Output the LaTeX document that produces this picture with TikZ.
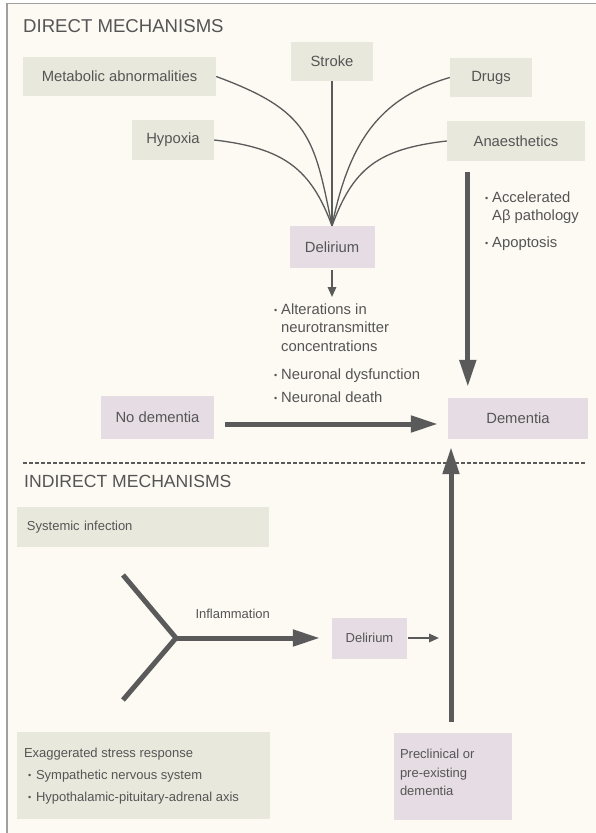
\documentclass[tikz,border=0pt]{standalone}
\usepackage{fontspec}
\setmainfont{Liberation Sans}
\usetikzlibrary{arrows.meta}
\definecolor{bgc}{HTML}{FDF9F3}
\definecolor{grn}{HTML}{E9E8DC}
\definecolor{pur}{HTML}{E6DDE4}
\definecolor{txtc}{HTML}{555555}
\definecolor{lnc}{HTML}{5A5A5A}
\definecolor{frc}{HTML}{A0A0A0}
\newcommand\ftop{\fontsize{14.8}{18.5}\selectfont}
\newcommand\fbot{\fontsize{13}{22}\selectfont}
\newcommand\fpre{\fontsize{13}{18.5}\selectfont}
\newcommand\ftitle{\fontsize{18.6}{22}\selectfont}
\newcommand\ftitleb{\fontsize{17.6}{22}\selectfont}
\newcommand\bul{{\fontsize{9}{9}\selectfont\raisebox{1pt}{•}}}
\begin{document}
\begin{tikzpicture}[x=1pt,y=-1pt,
  gbox/.style={fill=grn, inner sep=0pt, text=txtc, font=\ftop},
  pbox/.style={fill=pur, inner sep=0pt, text=txtc, font=\ftop},
  plain/.style={text=txtc, inner sep=0pt},
  curve/.style={draw=lnc, line width=1.3pt},
  bigarrow/.style={draw=lnc, line width=5pt, -{Triangle[length=27pt,width=16pt]}},
  smallarrow/.style={draw=lnc, line width=2.5pt, -{Triangle[length=10pt,width=8pt]}},
  arm/.style={draw=lnc, line width=5pt, line join=round},
  sepline/.style={draw=lnc, line width=1.2pt, dash pattern=on 3.5pt off 2.5pt}]
\useasboundingbox (0,0) rectangle (596,833);
\fill[white] (0,0) rectangle (596,833);
\draw[draw=frc, fill=bgc, line width=1.3pt] (7,3.5) rectangle (610,850);

% ---- direct mechanisms ----
\node[plain, font=\ftitle, anchor=base west] (t1) at (23,32) {DIRECT MECHANISMS};
\node[gbox, minimum width=193pt, minimum height=39pt] (meta) at (119.5,76.5) {Metabolic abnormalities};
\node[gbox, minimum width=82pt, minimum height=39pt] (stroke) at (332,61.5) {Stroke};
\node[gbox, minimum width=82pt, minimum height=39pt] (drugs) at (491,77.5) {Drugs};
\node[gbox, minimum width=82pt, minimum height=40pt] (hyp) at (173,140) {Hypoxia};
\node[gbox, minimum width=138pt, minimum height=40pt] (anae) at (516,141) {Anaesthetics};
\node[pbox, minimum width=85pt, minimum height=42pt] (del1) at (332,247) {Delirium};

\draw[curve] (meta.east) .. controls (310,111) and (314,137) .. (del1.north);
\draw[curve] (hyp.east) .. controls (284,148) and (311,169) .. (del1.north);
\draw[curve] (stroke.south) -- (del1.north);
\draw[curve] (drugs.west) .. controls (383,97) and (350,137) .. (del1.north);
\draw[curve] (anae.west) .. controls (377,149) and (353,169) .. (del1.north);

\draw[smallarrow] ([yshift=-2pt]del1.south) -- ++(0,27);

\node[plain, font=\ftop, anchor=base west] (alt) at (274,314)
  {\begin{tabular}[t]{@{}l@{}l@{}}\makebox[7pt][l]{\bul}&Alterations in\\&neurotransmitter\\&concentrations\end{tabular}};
\node[plain, font=\ftop, anchor=base west] (dys) at (274,379) {\makebox[7pt][l]{\bul}Neuronal dysfunction};
\node[plain, font=\ftop, anchor=base west] (death) at (274,402) {\makebox[7pt][l]{\bul}Neuronal death};
\node[plain, font=\ftop, anchor=base west] (accel) at (485,202)
  {\begin{tabular}[t]{@{}l@{}l@{}}\makebox[7pt][l]{\bul}&Accelerated\\&Aβ pathology\end{tabular}};
\node[plain, font=\ftop, anchor=base west] (apop) at (485,247) {\makebox[7pt][l]{\bul}Apoptosis};

\node[pbox, minimum width=113pt, minimum height=43pt] (nodem) at (157.5,417.5) {No dementia};
\node[pbox, minimum width=140pt, minimum height=41pt] (dem) at (518,418.5) {Dementia};

\draw[bigarrow] ([shift={(21,11)}]anae.south west) -- ([shift={(20,-11)}]dem.north west);
\draw[bigarrow] ([shift={(11,6.5)}]nodem.east) -- ([shift={(-10,5.5)}]dem.west);

\draw[sepline] (23,463) -- (585,463);

% ---- indirect mechanisms ----
\node[plain, font=\ftitleb, anchor=base west] (t2) at (24,487) {INDIRECT MECHANISMS};
\node[gbox, font=\fbot, minimum width=252pt, minimum height=40pt, text width=232pt, align=left] (sys) at (143,527) {Systemic infection};

\coordinate (yc) at (176,638);
\coordinate (ya) at (123,575);
\coordinate (yb) at (123,700);
\draw[arm] (ya) -- (yc) -- (yb);

\node[pbox, font=\fbot, minimum width=75pt, minimum height=41pt] (del2) at (369.5,638) {Delirium};
\draw[bigarrow] (yc) -- node[plain, font=\fbot, anchor=base west, at start, shift={(17,-20)}] (infl) {Inflammation} ([xshift=-12pt]del2.west);
\draw[smallarrow] ([xshift=1pt]del2.east) -- ++(31,0);

\node[gbox, minimum width=253pt, minimum height=87pt] (stress) at (143.5,775.5) {};
\node[plain, font=\fbot, anchor=base west] (stresstext) at ([shift={(7,26)}]stress.north west)
  {\begin{tabular}[t]{@{}l@{}}Exaggerated stress response\\\hspace{4pt}\makebox[8pt][l]{\bul}Sympathetic nervous system\\\hspace{4pt}\makebox[8pt][l]{\bul}Hypothalamic-pituitary-adrenal axis\end{tabular}};

\node[pbox, minimum width=118pt, minimum height=87pt] (pre) at (453,776.5) {};
\node[plain, font=\fpre, anchor=base west] (pretext) at ([shift={(6,26)}]pre.north west)
  {\begin{tabular}[t]{@{}l@{}}Preclinical or\\pre-existing\\dementia\end{tabular}};

\draw[bigarrow] ([shift={(-2,-11)}]pre.north) -- ([shift={(-67,8)}]dem.south);
\end{tikzpicture}
\end{document}
